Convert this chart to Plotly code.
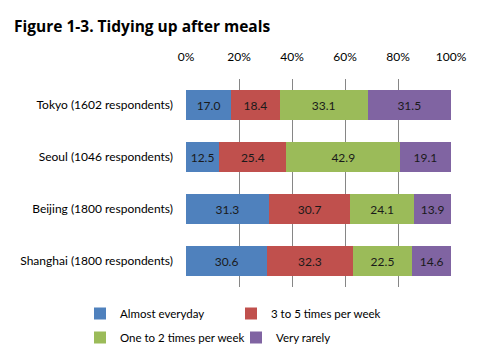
import plotly.graph_objects as go

cities = ["Tokyo (1602 respondents)", "Seoul (1046 respondents)",
          "Beijing (1800 respondents)", "Shanghai (1800 respondents)"]
series_names = ["Almost everyday", "3 to 5 times per week",
                "One to 2 times per week", "Very rarely"]
almost_everyday = [17.0, 12.5, 31.3, 30.6]
three_to_five = [18.4, 25.4, 30.7, 32.3]
one_to_two = [33.1, 42.9, 24.1, 22.5]
very_rarely = [31.5, 19.1, 13.9, 14.6]
colors = ["#4F81BD", "#C0504D", "#9BBB59", "#8064A2"]
tick_vals = [0, 20, 40, 60, 80, 100]
tick_text = ["0%", "20%", "40%", "60%", "80%", "100%"]

FONT = "Lato"
legend_rows = ["legend", "legend", "legend2", "legend2"]
fig = go.Figure()
for name, vals, col, lg in zip(series_names,
                               [almost_everyday, three_to_five, one_to_two, very_rarely],
                               colors, legend_rows):
    fig.add_trace(go.Bar(
        y=cities, x=vals, name=name, orientation="h", legend=lg,
        marker=dict(color=col, line=dict(width=0)),
        text=[f"{v:.1f}" for v in vals], textposition="inside",
        insidetextanchor="middle",
        textfont=dict(color="#1a1a1a", size=12, family=FONT),
    ))

L, R, T, B = 178, 39, 71, 77
PW = 482 - L - R
PH = 356 - T - B
plot_bottom = 356 - B

def legend_cfg(top_px, entry_w):
    return dict(orientation="h",
                x=(72 - L) / PW, xanchor="left",
                y=-(top_px - plot_bottom) / PH, yanchor="top",
                font=dict(family=FONT, size=11.5, color="black"),
                traceorder="normal", itemwidth=30,
                entrywidth=entry_w, entrywidthmode="pixels",
                bgcolor="rgba(0,0,0,0)")

# page body has an 8px margin, so the figure is laid out 8px up/left
fig.update_layout(
    width=482, height=356,
    barmode="stack", bargap=0.43,
    paper_bgcolor="white", plot_bgcolor="white",
    margin=dict(l=L, r=R, t=T, b=B, autoexpand=False),
    title=dict(text="<b>Figure 1-3. Tidying up after meals</b>",
               x=0.0125, xanchor="left", y=0.947, yanchor="middle",
               font=dict(family="Open Sans", size=15.5, color="black")),
    font=dict(family=FONT, size=12, color="black"),
    xaxis=dict(side="top", range=[0, 100], tickvals=tick_vals, ticktext=tick_text,
               showgrid=True, gridcolor="#868686", gridwidth=1,
               zeroline=False, showline=False, fixedrange=True, automargin=False,
               tickfont=dict(family=FONT, size=12, color="black"), ticklen=0,
               ticklabelstandoff=15),
    yaxis=dict(categoryorder="array", categoryarray=cities[::-1],
               showgrid=False, showline=False, zeroline=False, automargin=False,
               ticks="", ticklabelstandoff=12,
               tickfont=dict(family=FONT, size=12, color="black")),
    legend=legend_cfg(291, 106),
    legend2=legend_cfg(315, 111),
)
fig.write_html("out.html")
